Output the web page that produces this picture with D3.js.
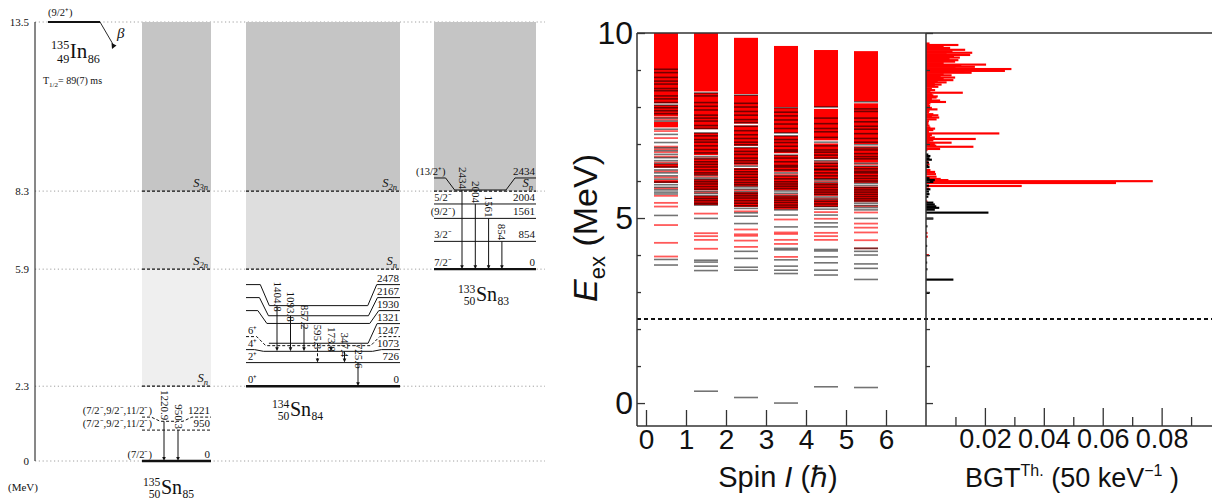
<!DOCTYPE html>
<html>
<head>
<meta charset="utf-8">
<script src="https://cdnjs.cloudflare.com/ajax/libs/d3/7.8.5/d3.min.js"></script>
<style>body{margin:0;background:#fff}</style>
</head>
<body>
<script>
// ---------- level scheme data (left) ----------
var schemeTicks = [13.5, 8.3, 5.9, 2.3, 0];

var levels135 = [0, 950, 1221];
var spins135 = ["(7/2⁻)", "(7/2⁻,9/2⁻,11/2⁻)", "(7/2⁻,9/2⁻,11/2⁻)"];
var tent135 = [false, true, true];
var gammas135 = [[1221, 0, "1220.9"], [950, 0, "950.3"]];
var thr135 = [[2.3, "n"], [5.9, "2n"], [8.3, "3n"]];

var levels134 = [0, 726, 1073, 1247, 1321, 1930, 2167, 2478];
var spins134 = ["0⁺", "2⁺", "4⁺", "6⁺", null, "", "", ""];
var tent134 = [false, false, false, true, false, false, false, false];
var gammas134 = [[2478, 1073, "1404.8"], [2167, 1073, "1093.8"], [1930, 1073, "857.2"],
                 [1321, 726, "595.3", true], [1247, 1073, "173.8"], [1073, 726, "347.4"], [726, 0, "725.6"]];
var thr134 = [[5.9, "n"], [8.3, "2n"]];

var levels133 = [0, 854, 1561, 2004, 2434];
var spins133 = ["7/2⁻", "3/2⁻", "(9/2⁻)", "5/2⁻", "(13/2⁺)"];
var tent133 = [false, false, false, false, false];
var gammas133 = [[2434, 0, "2434"], [2004, 0, "2004"], [1561, 0, "1561"], [854, 0, "854"]];
var thr133 = [[8.3, "n"]];

// ---------- shell-model data (right) ----------
var spinValues = [0.5, 1.5, 2.5, 3.5, 4.5, 5.5];
var spinTicks = [0, 1, 2, 3, 4, 5, 6];
var snLine = 2.27;
var redBands = [
  [[8.1, 10.0], [7.75, 8.05], [7.45, 7.6], [6.36, 6.46], [5.95, 6.02]],
  [[8.42, 10.0], [7.4, 8.38], [6.7, 7.3], [6.15, 6.6], [5.75, 6.05], [5.35, 5.6]],
  [[8.35, 9.87], [7.55, 8.32], [6.95, 7.5], [6.45, 6.9], [5.85, 6.35], [5.3, 5.7]],
  [[8.0, 9.65], [7.3, 7.98], [6.75, 7.22], [6.25, 6.7], [5.75, 6.15], [5.25, 5.6]],
  [[8.0, 9.54], [7.1, 7.95], [6.6, 7.0], [6.05, 6.5], [5.6, 5.95], [5.3, 5.5]],
  [[8.15, 9.51], [7.0, 8.1], [6.5, 6.9], [5.95, 6.4], [5.45, 5.85]]
];
var blackLevels = [
  [9.02, 8.93, 8.80, 8.70, 8.62, 8.50, 8.44, 8.30, 8.22, 8.12, 8.05, 7.98, 7.90, 7.82, 7.70, 7.62, 7.40, 7.26, 7.04,
   6.90, 6.82, 6.72, 6.63, 6.55, 6.47, 6.38, 6.30, 6.22, 6.14, 6.05, 5.97, 5.90, 5.83, 5.76, 5.70, 5.65, 5.07, 3.88, 3.73],
  [8.38, 8.30, 8.12, 8.02, 7.92, 7.78, 7.70, 7.62, 7.50, 7.42, 7.30, 7.22, 7.12, 7.05, 6.95, 6.85, 6.76, 6.66, 6.60,
   6.52, 6.45, 6.38, 6.30, 6.22, 6.16, 6.08, 6.04, 5.98, 5.92, 5.85, 5.78, 5.72, 5.66, 5.60, 5.53, 5.47, 5.40, 5.35,
   4.99, 3.86, 3.81, 3.70, 3.58, 0.32],
  [8.32, 8.10, 8.00, 7.88, 7.78, 7.66, 7.58, 7.48, 7.36, 7.25, 7.15, 7.05, 6.98, 6.90, 6.80, 6.72, 6.62, 6.55, 6.48,
   6.40, 6.32, 6.25, 6.18, 6.10, 6.03, 5.96, 5.90, 5.84, 5.78, 5.71, 5.66, 5.60, 5.54, 5.47, 5.40, 5.33, 5.26, 5.14,
   5.05, 4.85, 4.10, 3.91, 3.67, 3.59, 0.15],
  [7.98, 7.86, 7.76, 7.65, 7.54, 7.42, 7.30, 7.22, 7.12, 7.04, 6.94, 6.84, 6.80, 6.70, 6.62, 6.52, 6.42, 6.38, 6.30,
   6.22, 6.14, 6.06, 5.98, 5.92, 5.86, 5.80, 5.73, 5.67, 5.60, 5.54, 5.48, 5.42, 5.35, 5.29, 5.22, 5.08, 4.76, 4.18,
   4.14, 3.87, 3.70, 3.59, 3.50, 0.0],
  [8.00, 7.70, 7.55, 7.42, 7.33, 7.18, 7.05, 6.95, 6.84, 6.78, 6.70, 6.62, 6.55, 6.48, 6.40, 6.32, 6.30, 6.22, 6.14,
   6.06, 6.03, 5.96, 5.90, 5.83, 5.76, 5.70, 5.64, 5.57, 5.51, 5.45, 5.38, 5.31, 5.24, 5.08, 4.87, 4.76, 4.15, 4.11,
   3.95, 3.79, 3.59, 3.46, 0.44],
  [8.14, 7.95, 7.88, 7.70, 7.60, 7.48, 7.40, 7.28, 7.15, 7.05, 6.98, 6.90, 6.84, 6.74, 6.66, 6.60, 6.48, 6.40, 6.33,
   6.26, 6.22, 6.14, 6.07, 6.00, 5.94, 5.88, 5.82, 5.76, 5.70, 5.64, 5.58, 5.52, 5.46, 5.40, 5.34, 5.28, 5.22, 4.99,
   4.18, 4.10, 4.00, 3.76, 3.64, 3.34, 0.42]
];
var redLevels = [
  [7.72, 7.66, 7.55, 7.50, 7.35, 7.16, 6.93, 6.86, 6.78, 6.66, 6.50, 6.26, 6.10, 5.99, 5.80, 5.60, 5.41, 5.31, 4.81, 4.33, 3.96],
  [7.25, 7.18, 6.62, 6.48, 6.34, 6.26, 6.12, 5.95, 5.82, 5.69, 5.56, 5.44, 5.12, 4.59, 4.51, 4.41, 4.17],
  [6.85, 6.66, 6.44, 6.22, 6.07, 5.93, 5.75, 5.58, 5.44, 5.36, 5.18, 4.69, 4.56, 4.52, 4.39, 4.22],
  [7.18, 6.98, 6.58, 6.46, 6.18, 6.02, 5.89, 5.63, 5.45, 5.25, 4.96, 4.61, 4.57, 4.41, 4.30, 3.95],
  [7.00, 6.52, 6.44, 6.18, 5.99, 5.86, 5.67, 5.53, 5.40, 5.16, 4.98, 4.60, 4.51, 4.41],
  [6.92, 6.45, 6.36, 6.18, 6.02, 5.80, 5.67, 5.55, 5.45, 5.32, 5.15, 4.85, 4.74, 4.61, 4.40, 4.18]
];

// B(GT) per 50 keV bin: [E (MeV), value]
var bgtRed = [
  [9.72, 0.0012], [9.68, 0.0110], [9.64, 0.0060], [9.60, 0.0082], [9.55, 0.0133], [9.51, 0.0090], [9.47, 0.0157],
  [9.43, 0.0070], [9.41, 0.0150], [9.37, 0.0095], [9.34, 0.0115], [9.30, 0.0080], [9.27, 0.0110], [9.23, 0.0099],
  [9.19, 0.0060], [9.15, 0.0204], [9.12, 0.0120], [9.09, 0.0166], [9.05, 0.0100], [9.03, 0.0290], [8.98, 0.0268],
  [8.95, 0.0130], [8.93, 0.0155], [8.89, 0.0060], [8.86, 0.0087], [8.83, 0.0050], [8.80, 0.0099], [8.76, 0.0060],
  [8.73, 0.0093], [8.70, 0.0040], [8.67, 0.0070], [8.64, 0.0030], [8.61, 0.0053], [8.58, 0.0030], [8.55, 0.0042],
  [8.50, 0.0020], [8.46, 0.0031], [8.42, 0.0015], [8.39, 0.0125], [8.35, 0.0020], [8.32, 0.0025], [8.29, 0.0040],
  [8.26, 0.0036], [8.22, 0.0020], [8.18, 0.0048], [8.14, 0.0068], [8.10, 0.0015], [8.06, 0.0010], [8.03, 0.0014],
  [7.98, 0.0020], [7.94, 0.0039], [7.90, 0.0012], [7.86, 0.0010], [7.81, 0.0025], [7.78, 0.0042], [7.75, 0.0020],
  [7.72, 0.0045], [7.67, 0.0036], [7.62, 0.0010], [7.58, 0.0008], [7.54, 0.0008], [7.50, 0.0012], [7.45, 0.0015],
  [7.42, 0.0031], [7.38, 0.0025], [7.33, 0.0010], [7.29, 0.0249], [7.25, 0.0020], [7.22, 0.0014], [7.18, 0.0030],
  [7.14, 0.0169], [7.10, 0.0025], [7.07, 0.0012], [7.04, 0.0087], [7.00, 0.0030], [6.96, 0.0035], [6.93, 0.0161],
  [6.87, 0.0048], [6.84, 0.0005], [6.52, 0.0008], [6.45, 0.0012], [6.30, 0.0015], [6.25, 0.0031], [6.19, 0.0034],
  [6.12, 0.0036], [6.06, 0.0050], [6.03, 0.0076], [6.00, 0.0770], [5.95, 0.0645], [5.87, 0.0325], [5.80, 0.0010],
  [5.45, 0.0005], [4.60, 0.0005], [4.50, 0.0006], [4.00, 0.0010]
];
var bgtBlack = [
  [6.72, 0.0008], [6.68, 0.0015], [6.62, 0.0012], [6.58, 0.0020], [6.50, 0.0010], [6.42, 0.0008], [6.38, 0.0012],
  [6.08, 0.0012], [6.03, 0.0030], [5.98, 0.0025], [5.88, 0.0010], [5.78, 0.0015], [5.72, 0.0010], [5.65, 0.0012],
  [5.58, 0.0008], [5.42, 0.0025], [5.37, 0.0030], [5.32, 0.0035], [5.28, 0.0045], [5.23, 0.0030], [5.15, 0.0212],
  [4.99, 0.0025], [4.78, 0.0005], [4.25, 0.0004], [3.80, 0.0004], [3.62, 0.0005], [3.34, 0.0093], [2.98, 0.0012]
];
var bgtMajor = [0.02, 0.04, 0.06, 0.08];
var bgtMinor = [0.01, 0.03, 0.05, 0.07, 0.09];

// ---------- svg ----------
var serif = "'Liberation Serif', 'Times New Roman', serif";
var sans = "'Liberation Sans', Arial, sans-serif";
var narrow = "'Liberation Sans Narrow', 'Liberation Sans', Arial, sans-serif";

var svg = d3.select("body").append("svg").attr("width", 1212).attr("height", 500);

// ======== LEFT: decay level scheme ========
var yL = d3.scaleLinear().domain([0, 13.5]).range([461, 22]);
var gL = svg.append("g").attr("font-family", serif).attr("fill", "#111");

gL.selectAll("line.ref").data(schemeTicks).join("line")
  .attr("x1", 35).attr("x2", 545)
  .attr("y1", d => yL(d)).attr("y2", d => yL(d))
  .attr("stroke", "#888").attr("stroke-width", 0.8).attr("stroke-dasharray", "1.2,2.6");

var schemes = [
  {x0: 142, x1: 211, base: 0, levels: levels135, spins: spins135, tent: tent135, gammas: gammas135, thr: thr135,
   gx: 22, gdx: 14, goff: -1, spinMode: "end"},
  {x0: 246, x1: 400, base: 2.3, levels: levels134, spins: spins134, tent: tent134, gammas: gammas134, thr: thr134,
   gx: 31, gdx: 13.5, goff: 6, spinMode: "start"},
  {x0: 434, x1: 536, base: 5.9, levels: levels133, spins: spins133, tent: tent133, gammas: gammas133, thr: thr133,
   gx: 28, gdx: 13.3, goff: -1, spinMode: "middle"}
];

function shade(lo) { return lo >= 8.3 ? "#c5c5c5" : lo >= 5.9 ? "#dedede" : "#efefef"; }

// shading above thresholds
schemes.forEach(function (s) {
  s.thr.forEach(function (t, i) {
    var hi = i + 1 < s.thr.length ? s.thr[i + 1][0] : 13.5;
    gL.append("rect").attr("x", s.x0).attr("width", s.x1 - s.x0)
      .attr("y", yL(hi)).attr("height", yL(t[0]) - yL(hi)).attr("fill", shade(t[0]));
  });
});

// axis
gL.append("line").attr("x1", 35).attr("x2", 35).attr("y1", yL(13.5)).attr("y2", yL(0))
  .attr("stroke", "#111").attr("stroke-width", 1);
gL.selectAll("text.tick").data(schemeTicks).join("text")
  .attr("x", 29).attr("y", d => yL(d) + 4).attr("text-anchor", "end").attr("font-size", 11)
  .text(d => d);
gL.append("text").attr("x", 8).attr("y", 491).attr("font-size", 11).text("(MeV)");

function drawScheme(s) {
  var yA = function (e) { return yL(s.base + e / 1000); };
  var items = s.levels.map(function (e, i) {
    return {e: e, ay: yA(e), spin: s.spins[i], tent: s.tent[i]};
  });
  var slots = items.concat(s.thr.map(function (t) { return {ay: yL(t[0]), slot: true}; }));
  slots.sort(function (a, b) { return b.ay - a.ay; });
  var prev = Infinity;
  slots.forEach(function (d) { d.ly = Math.min(d.ay, prev - 13); prev = d.ly; });

  // threshold dashed lines and labels
  s.thr.forEach(function (t) {
    var y = yL(t[0]);
    gL.append("line").attr("x1", s.x0).attr("x2", s.x1).attr("y1", y).attr("y2", y)
      .attr("stroke", "#111").attr("stroke-width", 1.2).attr("stroke-dasharray", "3,2");
    var tx = gL.append("text").attr("x", s.x1 - 3).attr("y", y - 4).attr("text-anchor", "end")
      .attr("font-size", 12.5).attr("font-style", "italic");
    tx.append("tspan").text("S");
    tx.append("tspan").attr("font-size", 8.5).attr("dy", 3).text(t[1]);
  });

  items.forEach(function (d) {
    var pts, sl = 9, aL = 0, aR = 0, dd = d.ay - d.ly;
    if (Math.abs(dd) < 0.5) {
      pts = [[s.x0, d.ay], [s.x1, d.ay]];
    } else {
      aL = 8 + 0.3 * dd;
      aR = 18 + 0.25 * dd;
      pts = d.spin === null ? [[s.x0 + aL + sl, d.ay]] : [[s.x0, d.ly], [s.x0 + aL, d.ly], [s.x0 + aL + sl, d.ay]];
      pts = pts.concat([[s.x1 - aR - sl, d.ay], [s.x1 - aR, d.ly], [s.x1, d.ly]]);
    }
    gL.append("path").attr("d", d3.line()(pts)).attr("fill", "none").attr("stroke", "#111")
      .attr("stroke-width", d.e === 0 ? 2.4 : 1)
      .attr("stroke-dasharray", d.tent ? "3,2" : null);
    gL.append("text").attr("x", s.x1 - 1).attr("y", d.ly - 3).attr("text-anchor", "end")
      .attr("font-size", 11).text(d.e);
    if (d.spin) {
      var st = gL.append("text").attr("y", d.ly - 3).attr("font-size", 10.5).text(d.spin);
      if (s.spinMode === "end") st.attr("x", s.x0 + 10).attr("text-anchor", "end");
      else if (s.spinMode === "start") st.attr("x", s.x0 + 2);
      else if (aL > 0) st.attr("x", s.x0 + aL).attr("text-anchor", "end");
      else st.attr("x", s.x0 + 9).attr("text-anchor", "middle");
    }
  });

  s.gammas.forEach(function (g, i) {
    var x = s.x0 + s.gx + i * s.gdx, y1 = yA(g[0]), y2 = yA(g[1]);
    gL.append("line").attr("x1", x).attr("x2", x).attr("y1", y1).attr("y2", y2 - 3)
      .attr("stroke", "#111").attr("stroke-width", 1).attr("stroke-dasharray", g[3] ? "3,2" : null);
    gL.append("path").attr("d", "M" + (x - 1.8) + "," + (y2 - 4) + "L" + (x + 1.8) + "," + (y2 - 4) + "L" + x + "," + y2 + "Z")
      .attr("fill", "#111");
    gL.append("text").attr("transform", "translate(" + (x - 3.5) + "," + (y1 + s.goff) + ") rotate(90)")
      .attr("text-anchor", "end").attr("font-size", 11).text(g[2]);
  });
}
schemes.forEach(drawScheme);

function nuclide(x, y, A, Z, sym, N, fs) {
  var g = gL.append("g"), small = fs * 0.58;
  var ta = g.append("text").attr("y", y - fs * 0.42).attr("font-size", small).text(A);
  var tz = g.append("text").attr("y", y + fs * 0.22).attr("font-size", small).text(Z);
  var w = Math.max(ta.node().getComputedTextLength(), tz.node().getComputedTextLength());
  ta.attr("x", x + w).attr("text-anchor", "end");
  tz.attr("x", x + w).attr("text-anchor", "end");
  var ts = g.append("text").attr("x", x + w + 0.5).attr("y", y).attr("font-size", fs).text(sym);
  var ws = ts.node().getComputedTextLength();
  g.append("text").attr("x", x + w + ws + 1).attr("y", y + fs * 0.22).attr("font-size", small).text(N);
}

// 135In parent
gL.append("line").attr("x1", 48).attr("x2", 100).attr("y1", yL(13.5)).attr("y2", yL(13.5))
  .attr("stroke", "#111").attr("stroke-width", 2.2);
gL.append("text").attr("x", 48).attr("y", 16).attr("font-size", 10.5).text("(9/2⁺)");
gL.append("line").attr("x1", 100).attr("y1", yL(13.5)).attr("x2", 114).attr("y2", 46)
  .attr("stroke", "#111").attr("stroke-width", 0.9);
gL.append("path").attr("d", "M112,49 L111.5,43 L116.5,45.5 Z").attr("fill", "#111");
gL.append("text").attr("x", 117).attr("y", 38).attr("font-size", 15).attr("font-style", "italic").text("β");
nuclide(51, 58, "135", "49", "In", "86", 21);
var th = gL.append("text").attr("x", 43).attr("y", 84).attr("font-size", 10);
th.append("tspan").text("T");
th.append("tspan").attr("font-size", 7).attr("dy", 3).text("1/2");
th.append("tspan").attr("dy", -3).text("= 89(7) ms");

nuclide(143, 494, "135", "50", "Sn", "85", 20);
nuclide(272, 416, "134", "50", "Sn", "84", 20);
nuclide(458, 301, "133", "50", "Sn", "83", 20);

// ======== RIGHT: shell-model levels and B(GT) ========
var xS = d3.scaleLinear().domain([-0.225, 7]).range([637, 926]);
var xB = d3.scaleLinear().domain([0, 0.0971]).range([926, 1212]);
var yR = d3.scaleLinear().domain([-0.62, 10]).range([426, 33]);
var gR = svg.append("g");

spinValues.forEach(function (j, c) {
  var xa = xS(j - 0.3), w = xS(j + 0.3) - xa;
  var g = gR.append("g");
  g.selectAll("rect").data(redBands[c]).join("rect")
    .attr("x", xa).attr("width", w)
    .attr("y", d => yR(d[1])).attr("height", d => yR(d[0]) - yR(d[1]))
    .attr("fill", "#ff0000");
  g.selectAll("line.r").data(redLevels[c]).join("line").attr("class", "r")
    .attr("x1", xa).attr("x2", xa + w).attr("y1", d => yR(d)).attr("y2", d => yR(d))
    .attr("stroke", "#ff0000").attr("stroke-opacity", 0.65).attr("stroke-width", 1.8);
  g.selectAll("line.k").data(blackLevels[c]).join("line").attr("class", "k")
    .attr("x1", xa).attr("x2", xa + w).attr("y1", d => yR(d)).attr("y2", d => yR(d))
    .attr("stroke", "#000").attr("stroke-opacity", 0.55).attr("stroke-width", 1.6);
});

var binH = yR(0) - yR(0.05);
function bars(data, color) {
  gR.append("g").selectAll("rect").data(data).join("rect")
    .attr("x", xB(0)).attr("width", d => xB(d[1]) - xB(0))
    .attr("y", d => yR(d[0]) - binH / 2).attr("height", binH + 0.3)
    .attr("fill", color);
}
bars(bgtRed, "#ff0000");
bars(bgtBlack, "#000");

gR.append("line").attr("x1", 637).attr("x2", 1212).attr("y1", yR(snLine)).attr("y2", yR(snLine))
  .attr("stroke", "#111").attr("stroke-width", 2).attr("stroke-dasharray", "4,3");

// frame
var frame = [[637, 33, 1212, 33], [637, 426, 1212, 426], [637, 33, 637, 426], [926, 33, 926, 426]];
gR.selectAll("line.frame").data(frame).join("line")
  .attr("x1", d => d[0]).attr("y1", d => d[1]).attr("x2", d => d[2]).attr("y2", d => d[3])
  .attr("stroke", "#333").attr("stroke-width", 1.5);

function styleAxis(g, fs) {
  g.select(".domain").remove();
  g.selectAll("line").attr("stroke", "#333").attr("stroke-width", 1.3);
  g.selectAll("text").attr("font-family", narrow).attr("font-size", fs).attr("fill", "#111");
}
var major = [0, 5, 10], minor = [1, 2, 3, 4, 6, 7, 8, 9];
gR.append("g").attr("transform", "translate(637,0)")
  .call(d3.axisLeft(yR).tickValues(major).tickSize(-8).tickPadding(4).tickFormat(d3.format("d")))
  .call(styleAxis, 32);
gR.append("g").attr("transform", "translate(637,0)")
  .call(d3.axisLeft(yR).tickValues(minor).tickSize(-4).tickFormat(""))
  .call(styleAxis, 10);
gR.append("g").attr("transform", "translate(926,0)")
  .call(d3.axisLeft(yR).tickValues(major).tickSize(-7).tickFormat(""))
  .call(styleAxis, 10);
gR.append("g").attr("transform", "translate(926,0)")
  .call(d3.axisLeft(yR).tickValues(minor).tickSize(-4).tickFormat(""))
  .call(styleAxis, 10);
gR.append("g").attr("transform", "translate(0,426)")
  .call(d3.axisBottom(xS).tickValues(spinTicks).tickSize(-16).tickPadding(3).tickFormat(d3.format("d")))
  .call(styleAxis, 28);
gR.append("g").attr("transform", "translate(0,426)")
  .call(d3.axisBottom(xB).tickValues(bgtMajor).tickSize(-18).tickPadding(3).tickFormat(d3.format(".2f")))
  .call(styleAxis, 27);
gR.append("g").attr("transform", "translate(0,426)")
  .call(d3.axisBottom(xB).tickValues(bgtMinor).tickSize(-9).tickFormat(""))
  .call(styleAxis, 10);

// axis titles
var yt = gR.append("text").attr("transform", "translate(597,228) rotate(-90)")
  .attr("text-anchor", "middle").attr("font-family", sans).attr("font-size", 34).attr("fill", "#111");
yt.append("tspan").attr("font-style", "italic").text("E");
yt.append("tspan").attr("font-size", 22).attr("dy", 8).text("ex");
yt.append("tspan").attr("dy", -8).text(" (MeV)");

var xt = gR.append("text").attr("x", 778).attr("y", 487).attr("text-anchor", "middle")
  .attr("font-family", narrow).attr("font-size", 29).attr("fill", "#111");
xt.append("tspan").text("Spin ");
xt.append("tspan").attr("font-style", "italic").text("I");
xt.append("tspan").text(" (ℏ)");

var bt = gR.append("text").attr("x", 1072).attr("y", 487).attr("text-anchor", "middle")
  .attr("font-family", narrow).attr("font-size", 27).attr("fill", "#111");
bt.append("tspan").text("BGT");
bt.append("tspan").attr("font-size", 16).attr("dy", -11).text("Th.");
bt.append("tspan").attr("dy", 11).text(" (50 keV");
bt.append("tspan").attr("font-size", 16).attr("dy", -11).text("−1");
bt.append("tspan").attr("dy", 11).text(" )");
</script>
</body>
</html>
